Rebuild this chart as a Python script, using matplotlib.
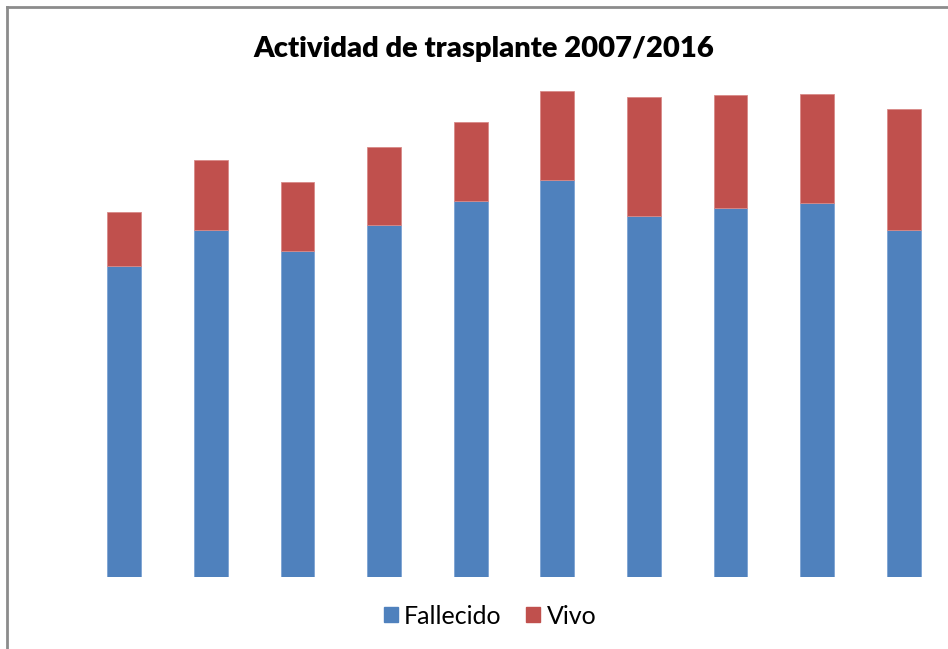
import matplotlib.pyplot as plt
from matplotlib.lines import Line2D
from matplotlib.patches import Patch

# values (no axis shown, arbitrary units)
years = ["2007", "2008", "2009", "2010", "2011", "2012", "2013", "2014", "2015", "2016"]
fallecido = [311, 347, 326, 352, 376, 397, 361, 369, 374, 347]
vivo = [54, 70, 69, 78, 79, 89, 119, 113, 109, 121]

plt.rcParams["font.family"] = ["Lato", "DejaVu Sans"]

fig = plt.figure(figsize=(9.48, 6.49), dpi=100)
W, H = 948, 649
ax = fig.add_axes([81 / W, 1 - 577 / H, 866 / W, 500 / H])

x = range(len(years))
ax.bar(x, fallecido, width=0.39, color="#4F81BD", edgecolor="#7da3d3", linewidth=0.6)
ax.bar(x, vivo, width=0.39, bottom=fallecido, color="#C0504D", edgecolor="#d98a88", linewidth=0.6)

ax.set_xlim(-0.5, len(years) - 0.5)
ax.set_ylim(0, 500)
ax.axis("off")

# chart frame (only top and left edges visible in the crop)
fig.add_artist(Line2D([7 / W, 1.0], [1 - 7 / H, 1 - 7 / H], color="#8c8c8c", lw=2))
fig.add_artist(Line2D([7 / W, 7 / W], [0.0, 1 - 7 / H], color="#8c8c8c", lw=2))

fig.text(484 / W, 1 - 49 / H, "Actividad de trasplante 2007/2016",
         ha="center", va="center", fontsize=21, fontweight="heavy")

handles = [Patch(color="#4F81BD", label="Fallecido"), Patch(color="#C0504D", label="Vivo")]
fig.legend(handles=handles, loc="center", bbox_to_anchor=(490 / W, 1 - 616 / H), ncol=2,
           frameon=False, fontsize=18, handlelength=0.55, handleheight=0.55,
           handletextpad=0.25, columnspacing=1.0)

fig.savefig("out.png", dpi=100)
